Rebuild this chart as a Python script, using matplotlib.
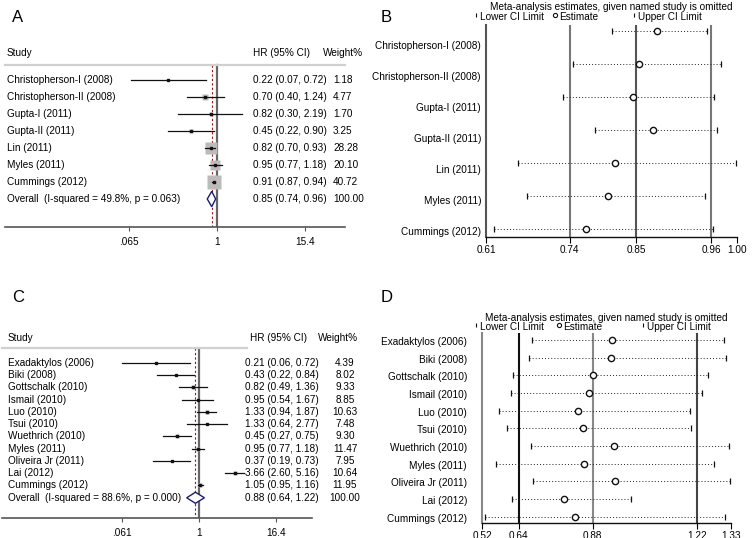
import numpy as np
import matplotlib
matplotlib.use("Agg")
import matplotlib.pyplot as plt
from matplotlib.transforms import blended_transform_factory

plt.rcParams['font.family'] = ['Liberation Sans', 'DejaVu Sans']

W, H = 752, 538

# ---- panel A : forest plot
a_studies = ["Christopherson-I (2008)", "Christopherson-II (2008)", "Gupta-I (2011)",
             "Gupta-II (2011)", "Lin (2011)", "Myles (2011)", "Cummings (2012)"]
a_hr = [0.22, 0.70, 0.82, 0.45, 0.82, 0.95, 0.91]
a_lo = [0.07, 0.40, 0.30, 0.22, 0.70, 0.77, 0.87]
a_hi = [0.72, 1.24, 2.19, 0.90, 0.93, 1.18, 0.94]
a_w = [1.18, 4.77, 1.70, 3.25, 28.28, 20.10, 40.72]
a_overall = [0.85, 0.74, 0.96]
a_overall_label = "Overall  (I-squared = 49.8%, p = 0.063)"
a_ticks = [0.065, 1, 15.4]
a_ticklabels = [".065", "1", "15.4"]

# ---- panel B : influence analysis
b_studies = a_studies
b_est = [0.876, 0.848, 0.838, 0.869, 0.811, 0.799, 0.766]
b_lo = [0.805, 0.745, 0.729, 0.780, 0.660, 0.673, 0.622]
b_hi = [0.953, 0.975, 0.965, 0.969, 0.999, 0.951, 0.962]
b_ticks = [0.61, 0.74, 0.843, 0.96, 1.00]
b_ticklabels = ["0.61", "0.74", "0.85", "0.96", "1.00"]

# ---- panel C : forest plot
c_studies = ["Exadaktylos (2006)", "Biki (2008)", "Gottschalk (2010)", "Ismail (2010)",
             "Luo (2010)", "Tsui (2010)", "Wuethrich (2010)", "Myles (2011)",
             "Oliveira Jr (2011)", "Lai (2012)", "Cummings (2012)"]
c_hr = [0.21, 0.43, 0.82, 0.95, 1.33, 1.33, 0.45, 0.95, 0.37, 3.66, 1.05]
c_lo = [0.06, 0.22, 0.49, 0.54, 0.94, 0.64, 0.27, 0.77, 0.19, 2.60, 0.95]
c_hi = [0.72, 0.84, 1.36, 1.67, 1.87, 2.77, 0.75, 1.18, 0.73, 5.16, 1.16]
c_w = [4.39, 8.02, 9.33, 8.85, 10.63, 7.48, 9.30, 11.47, 7.95, 10.64, 11.95]
c_overall = [0.88, 0.64, 1.22]
c_overall_label = "Overall  (I-squared = 88.6%, p = 0.000)"
c_ticks = [0.061, 1, 16.4]
c_ticklabels = [".061", "1", "16.4"]

# ---- panel D : influence analysis
d_studies = c_studies
d_est = [0.943, 0.941, 0.882, 0.869, 0.831, 0.850, 0.949, 0.851, 0.954, 0.786, 0.823]
d_lo = [0.683, 0.674, 0.622, 0.613, 0.576, 0.601, 0.680, 0.566, 0.687, 0.617, 0.530]
d_hi = [1.306, 1.314, 1.255, 1.236, 1.197, 1.200, 1.325, 1.276, 1.327, 1.005, 1.311]
d_ticks = [0.52, 0.64, 0.88, 1.22, 1.33]
d_ticklabels = ["0.52", "0.64", "0.88", "1.22", "1.33"]

FS = 7.2

fig = plt.figure(figsize=(W / 100, H / 100), dpi=100)


def rect(l, t, r, b):
    return [l / W, 1 - b / H, (r - l) / W, (b - t) / H]


def fx(x):
    return x / W


def fy(y):
    return 1 - y / H


def forest(r, xlim, y0, dy, studies, hr, lo, hi, w, ov, ov_label, ticks, ticklabels,
           box_px, xs, header_y, sep_y, sep_x1, wcenter):
    ax = fig.add_axes(rect(*r))
    n = len(studies)
    ax.set_xscale("log")
    ax.set_xlim(*xlim)
    ax.set_ylim((r[3] - y0) / dy, (r[1] - y0) / dy)
    for s in ["top", "right", "left"]:
        ax.spines[s].set_visible(False)
    ax.spines["bottom"].set_color("#555555")
    ax.spines["bottom"].set_linewidth(1.2)
    ax.set_yticks([])
    ax.set_xticks(ticks)
    ax.set_xticklabels(ticklabels, fontsize=FS)
    ax.xaxis.set_minor_locator(matplotlib.ticker.NullLocator())
    ax.tick_params(axis="x", length=3, width=0.8, color="#555555", pad=4)
    ytop = (sep_y - y0) / dy
    ybot = (r[3] - y0) / dy
    ax.plot([1, 1], [ytop, ybot], color="#666666", lw=1.6, zorder=1)
    ax.plot([ov[0], ov[0]], [ytop, ybot], color="#a01010", lw=0.8,
            ls=(0, (2, 2)), zorder=2)
    rows = np.arange(n)
    for i in rows:
        side = box_px * np.sqrt(w[i])
        ax.plot(hr[i], i, marker="s", ms=side / 1.389, color="#bbbbbb", mec="none", zorder=3)
        ax.plot([lo[i], hi[i]], [i, i], color="#111111", lw=0.9, zorder=4)
        ax.plot(hr[i], i, marker="s", ms=2.0, color="#111111", zorder=5)
    # diamond for overall
    hh = 0.45
    ax.fill([ov[1], ov[0], ov[2], ov[0]], [n, n - hh, n, n + hh],
            facecolor="white", edgecolor="#1c1c70", lw=1.0, zorder=5)
    tr = blended_transform_factory(fig.transFigure, ax.transData)
    ax.plot([fx(r[0]), fx(sep_x1)], [ytop, ytop], transform=tr, color="#d0d0d0",
            lw=1.6, clip_on=False)
    hy = (header_y - y0) / dy
    ax.text(fx(xs[0]), hy, "Study", transform=tr, fontsize=FS, va="center")
    ax.text(fx(xs[3]), hy, "HR (95% CI)", transform=tr, fontsize=FS, va="center")
    ax.text(fx(xs[4]), hy, "Weight%", transform=tr, fontsize=FS, va="center")
    labels = list(studies) + [ov_label]
    hrs = list(hr) + [ov[0]]
    los = list(lo) + [ov[1]]
    his = list(hi) + [ov[2]]
    ws = list(w) + [100.0]
    for i in range(n + 1):
        ax.text(fx(xs[0]), i, labels[i], transform=tr, fontsize=FS, va="center")
        ax.text(fx(xs[1]), i, f"{hrs[i]:.2f} ({los[i]:.2f}, {his[i]:.2f})",
                transform=tr, fontsize=FS, va="center")
        ax.text(fx(xs[2]), i, f"{ws[i]:.2f}", transform=tr, fontsize=FS, va="center",
                ha="center" if wcenter else "left")
    return ax


def influence(r, xlim, y0, dy, studies, est, lo, hi, ticks, ticklabels, vcolors,
              left_color, lab_x, lab_y0, lab_dy, title_y, leg_y, leg_x):
    ax = fig.add_axes(rect(*r))
    n = len(studies)
    ax.set_xlim(*xlim)
    ax.set_ylim((r[3] - y0) / dy, (r[1] - y0) / dy)
    for s in ["top", "right"]:
        ax.spines[s].set_visible(False)
    ax.spines["left"].set_color(left_color)
    ax.spines["left"].set_linewidth(1.5)
    ax.spines["bottom"].set_color("#111111")
    ax.spines["bottom"].set_linewidth(1.0)
    ax.set_yticks([])
    ax.set_xticks(ticks)
    ax.set_xticklabels(ticklabels, fontsize=FS)
    ax.tick_params(axis="x", length=4, width=0.8, pad=2)
    for t, c in zip(ticks[1:-1], vcolors):
        ax.axvline(t, color=c, lw=1.5, zorder=1)
    rows = np.arange(n)
    for i in rows:
        ax.plot([lo[i], hi[i]], [i, i], color="#222222", lw=0.7, ls=(0, (1, 2.2)), zorder=2)
        ax.plot([lo[i], hi[i]], [i, i], ls="none", marker="|", ms=5, mew=0.9,
                color="#111111", zorder=3)
        ax.plot(est[i], i, marker="o", ms=4.5, mfc="white", mec="#111111", mew=1.0, zorder=4)
    for i in rows:
        fig.text(fx(lab_x), fy(lab_y0 + lab_dy * i), studies[i], fontsize=FS,
                 ha="right", va="center")
    cx = (r[0] + r[2]) / 2
    fig.text(fx(cx), fy(title_y), "Meta-analysis estimates, given named study is omitted",
             fontsize=FS, ha="center", va="center")
    marks = ["|", "o", "|"]
    texts = ["Lower CI Limit", "Estimate", "Upper CI Limit"]
    for m, t, x in zip(marks, texts, leg_x):
        ax.plot([fx(x)], [fy(leg_y - 2)], transform=fig.transFigure, clip_on=False,
                marker=m, ms=3 if m == "o" else 3.5, mfc="white", mec="#111111",
                mew=0.8, color="#111111")
        fig.text(fx(x + 4), fy(leg_y), t, fontsize=FS, va="center")
    return ax


forest((5, 62, 345, 227), (np.exp(-6.58), np.exp(3.975)), 80, 17,
       a_studies, a_hr, a_lo, a_hi, a_w, a_overall, a_overall_label,
       a_ticks, a_ticklabels, 2.35, (7, 253, 333, 253, 323), 53, 65, 345, False)

forest((2, 348, 312, 518), (np.exp(-7.16), np.exp(4.11)), 362.7, 12.28,
       c_studies, c_hr, c_lo, c_hi, c_w, c_overall, c_overall_label,
       c_ticks, c_ticklabels, 1.0, (8, 245, 345, 250, 318), 338, 348, 247, True)

influence((486, 25, 737, 237), (0.61, 1.00), 31, 33, b_studies, b_est, b_lo, b_hi,
          b_ticks, b_ticklabels, ["#777777", "#555555", "#777777"], "#555555",
          481, 46, 31, 7, 17, (476, 555, 634))

influence((482, 333, 731, 522.7), (0.52, 1.33), 340, 17.67, d_studies, d_est, d_lo, d_hi,
          d_ticks, d_ticklabels, ["#111111", "#888888", "#444444"], "#888888",
          467, 342, 17.67, 318, 327, (476, 559, 643))

for lab, x, y in [("A", 12, 17), ("B", 381, 17), ("C", 12, 298), ("D", 381, 298)]:
    fig.text(fx(x), fy(y), lab, fontsize=12, va="center")

fig.savefig("out.png", dpi=100)
